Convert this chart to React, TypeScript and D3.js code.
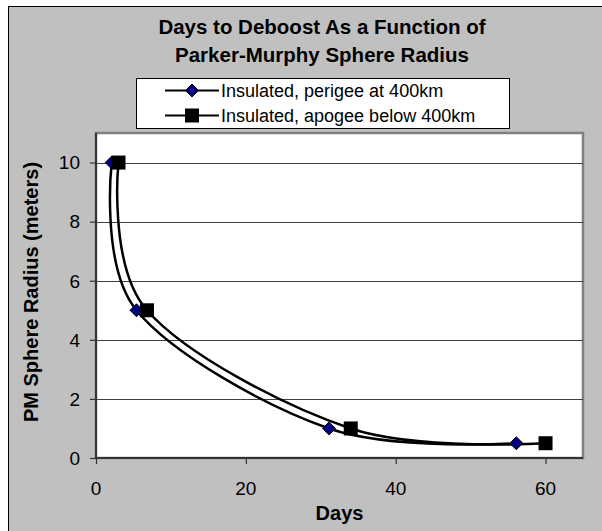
import React, { useRef, useEffect } from "react";
import * as d3 from "d3";

// Data
const perigeeDays = [2.1, 5.4, 31.1, 56.1];
const perigeeRadius = [10, 5, 1, 0.5];
const apogeeDays = [3.0, 6.8, 34.0, 60.0];
const apogeeRadius = [10, 5, 1, 0.5];
const xTicks = [0, 20, 40, 60];
const yTicks = [0, 2, 4, 6, 8, 10];
const seriesNames = ["Insulated, perigee at 400km", "Insulated, apogee below 400km"];

const W = 602;
const H = 531;
const plot = { left: 96, right: 583, top: 133, bottom: 458 };
const font = "Arial, 'Liberation Sans', sans-serif";

function label(g: any, x: number, y: number, txt: string, size: number, opts: any = {}) {
  return g.append("text")
    .attr("transform", `translate(${x},${y})${opts.rotate ? " rotate(-90)" : ""}`)
    .attr("text-anchor", opts.anchor ?? "middle")
    .attr("font-family", font)
    .attr("font-size", size)
    .attr("font-weight", opts.bold ? "bold" : "normal")
    .attr("fill", "#000")
    .text(txt);
}

export default function App() {
  const svgRef = useRef<SVGSVGElement>(null);

  useEffect(() => {
    const svg = d3.select(svgRef.current);
    svg.selectAll("*").remove();

    // outer frame (runs off the right and bottom edges)
    svg.append("rect")
      .attr("x", 8.5).attr("y", 6.5)
      .attr("width", 600).attr("height", 530)
      .attr("fill", "#c0c0c0").attr("stroke", "#000").attr("stroke-width", 1);

    const x = d3.scaleLinear().domain([0, 65]).range([plot.left, plot.right]);
    const y = d3.scaleLinear().domain([0, 11]).range([plot.bottom, plot.top]);

    // plot area
    svg.append("rect")
      .attr("x", plot.left).attr("y", plot.top)
      .attr("width", plot.right - plot.left).attr("height", plot.bottom - plot.top)
      .attr("fill", "#fff").attr("stroke", "#808080").attr("stroke-width", 2.5);

    // gridlines
    svg.append("g").selectAll("line")
      .data(yTicks.filter((t) => t > 0))
      .enter().append("line")
      .attr("x1", plot.left).attr("x2", plot.right)
      .attr("y1", (d) => Math.round(y(d)) + 0.5).attr("y2", (d) => Math.round(y(d)) + 0.5)
      .attr("stroke", "#404040").attr("stroke-width", 1);

    // axes
    const xAxis = svg.append("g")
      .attr("transform", `translate(0,${plot.bottom})`)
      .call(d3.axisBottom(x).tickValues(xTicks).tickSize(6).tickFormat(() => ""));
    const yAxis = svg.append("g")
      .attr("transform", `translate(${plot.left},0)`)
      .call(d3.axisLeft(y).tickValues(yTicks).tickSize(6).tickFormat(() => ""));
    [xAxis, yAxis].forEach((a) => {
      a.select(".domain").remove();
      a.selectAll("line").attr("stroke", "#333").attr("stroke-width", 1.2);
    });
    xTicks.forEach((t) => label(svg, x(t), 495, String(t), 19));
    yTicks.forEach((t) => label(svg, 80, y(t) + 6.8, String(t), 19, { anchor: "end" }));

    svg.append("line")
      .attr("x1", plot.left).attr("x2", plot.left)
      .attr("y1", plot.top).attr("y2", plot.bottom + 1)
      .attr("stroke", "#333").attr("stroke-width", 2);
    svg.append("line")
      .attr("x1", plot.left - 1).attr("x2", plot.right)
      .attr("y1", plot.bottom).attr("y2", plot.bottom)
      .attr("stroke", "#333").attr("stroke-width", 2);

    // series lines, smoothed like Excel
    const line = d3.line<[number, number]>()
      .x((d) => x(d[0])).y((d) => y(d[1]))
      .curve(d3.curveCardinal.tension(0));
    const s1 = perigeeDays.map((d, i) => [d, perigeeRadius[i]] as [number, number]);
    const s2 = apogeeDays.map((d, i) => [d, apogeeRadius[i]] as [number, number]);
    [s1, s2].forEach((s) => {
      svg.append("path").datum(s)
        .attr("d", line).attr("fill", "none")
        .attr("stroke", "#000").attr("stroke-width", 2.5);
    });

    const diamond = (g: any, cx: number, cy: number) =>
      g.append("path")
        .attr("d", `M${cx},${cy - 6.5}L${cx + 6.5},${cy}L${cx},${cy + 6.5}L${cx - 6.5},${cy}Z`)
        .attr("fill", "#000080").attr("stroke", "#000").attr("stroke-width", 1);
    const square = (g: any, cx: number, cy: number) =>
      g.append("rect")
        .attr("x", cx - 7).attr("y", cy - 7).attr("width", 14).attr("height", 14)
        .attr("fill", "#000");

    s1.forEach((d) => diamond(svg, x(d[0]), y(d[1])));
    s2.forEach((d) => square(svg, x(d[0]), y(d[1])));

    // title
    label(svg, 322, 34, "Days to Deboost As a Function of", 20.5, { bold: true });
    label(svg, 322, 62, "Parker-Murphy Sphere Radius", 20.5, { bold: true });

    // legend
    const lg = svg.append("g");
    lg.append("rect")
      .attr("x", 136.5).attr("y", 78.5).attr("width", 373).attr("height", 50)
      .attr("fill", "#fff").attr("stroke", "#000").attr("stroke-width", 1);
    seriesNames.forEach((name, i) => {
      const ly = 90.5 + i * 25;
      lg.append("line")
        .attr("x1", 165).attr("x2", 219).attr("y1", ly).attr("y2", ly)
        .attr("stroke", "#000").attr("stroke-width", 2);
      if (i === 0) diamond(lg, 192, ly);
      else square(lg, 192, ly);
      label(lg, 221, ly + 6.5, name, 18, { anchor: "start" });
    });

    // axis titles
    label(svg, (plot.left + plot.right) / 2, 520, "Days", 20, { bold: true });
    label(svg, 38, 292, "PM Sphere Radius (meters)", 20, { bold: true, rotate: true });
  }, []);

  return (
    <svg
      ref={svgRef}
      width={W}
      height={H}
      style={{ position: "absolute", left: 0, top: 0, display: "block" }}
    />
  );
}
